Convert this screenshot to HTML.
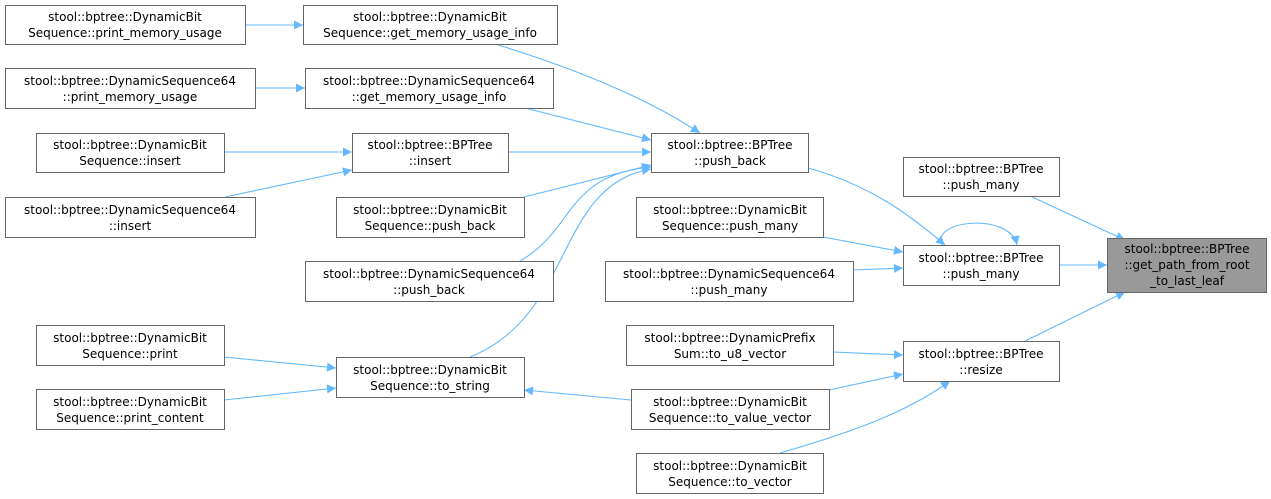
<!DOCTYPE html>
<html><head><meta charset="utf-8"><style>
html,body{margin:0;padding:0;background:#fff;}
svg{display:block;}
text{font-family:"DejaVu Sans","Liberation Sans",sans-serif;font-size:12px;fill:#000;}
.n{fill:#fff;stroke:#666;stroke-width:1;}
.e{fill:none;stroke:#63b8ff;stroke-width:1.1;}
</style></head><body>
<svg width="1271" height="499" viewBox="0 0 1271 499" xmlns="http://www.w3.org/2000/svg">
<defs>
<marker id="a" viewBox="0 0 10 10" refX="10" refY="5" markerWidth="11" markerHeight="9" orient="auto" markerUnits="userSpaceOnUse">
<path d="M0,0 L10,5 L0,10 z" fill="#63b8ff"/>
</marker>
</defs>
<g class="edges">
<path class="e" d="M245,25 L303,25" marker-end="url(#a)"/>
<path class="e" d="M255,88 L305,88" marker-end="url(#a)"/>
<path class="e" d="M224,152 L352,152" marker-end="url(#a)"/>
<path class="e" d="M225,197 L352,170" marker-end="url(#a)"/>
<path class="e" d="M495,44 C580,70 650,100 700,133" marker-end="url(#a)"/>
<path class="e" d="M525,108 L651,140" marker-end="url(#a)"/>
<path class="e" d="M508,152 L651,152" marker-end="url(#a)"/>
<path class="e" d="M524,197 L651,165" marker-end="url(#a)"/>
<path class="e" d="M520,261 C575,230 565,175 651,167" marker-end="url(#a)"/>
<path class="e" d="M470,357 C575,315 555,185 651,169" marker-end="url(#a)"/>
<path class="e" d="M224,357 L336,368" marker-end="url(#a)"/>
<path class="e" d="M224,400 L336,388" marker-end="url(#a)"/>
<path class="e" d="M631,400 L524,390" marker-end="url(#a)"/>
<path class="e" d="M808,168 C870,185 910,215 945,245" marker-end="url(#a)"/>
<path class="e" d="M823,237 L903,252" marker-end="url(#a)"/>
<path class="e" d="M853,270 L903,268" marker-end="url(#a)"/>
<path class="e" d="M942,245 C930,220 1010,212 1017,245" marker-end="url(#a)"/>
<path class="e" d="M833,352 L903,355" marker-end="url(#a)"/>
<path class="e" d="M829,390 L903,374" marker-end="url(#a)"/>
<path class="e" d="M780,453 C860,430 910,410 950,381" marker-end="url(#a)"/>
<path class="e" d="M1030,196 L1125,240" marker-end="url(#a)"/>
<path class="e" d="M1058,265 L1107,265" marker-end="url(#a)"/>
<path class="e" d="M1025,341 L1125,292" marker-end="url(#a)"/>
</g>
<g class="nodes">
<rect class="n" x="5.5" y="5.5" width="240" height="39"/>
<text x="125" y="21" text-anchor="middle">stool::bptree::DynamicBit</text>
<text x="125" y="37" text-anchor="middle">Sequence::print_memory_usage</text>

<rect class="n" x="5.5" y="68.5" width="250" height="40"/>
<text x="130" y="85" text-anchor="middle">stool::bptree::DynamicSequence64</text>
<text x="130" y="101" text-anchor="middle">::print_memory_usage</text>

<rect class="n" x="36.5" y="133.5" width="188" height="39"/>
<text x="130" y="149" text-anchor="middle">stool::bptree::DynamicBit</text>
<text x="130" y="165" text-anchor="middle">Sequence::insert</text>

<rect class="n" x="5.5" y="197.5" width="250" height="40"/>
<text x="130" y="214" text-anchor="middle">stool::bptree::DynamicSequence64</text>
<text x="130" y="230" text-anchor="middle">::insert</text>

<rect class="n" x="36.5" y="325.5" width="188" height="40"/>
<text x="130" y="342" text-anchor="middle">stool::bptree::DynamicBit</text>
<text x="130" y="358" text-anchor="middle">Sequence::print</text>

<rect class="n" x="36.5" y="389.5" width="188" height="40"/>
<text x="130" y="406" text-anchor="middle">stool::bptree::DynamicBit</text>
<text x="130" y="422" text-anchor="middle">Sequence::print_content</text>

<rect class="n" x="303.5" y="5.5" width="254" height="39"/>
<text x="430" y="21" text-anchor="middle">stool::bptree::DynamicBit</text>
<text x="430" y="37" text-anchor="middle">Sequence::get_memory_usage_info</text>

<rect class="n" x="305.5" y="68.5" width="248" height="40"/>
<text x="429" y="85" text-anchor="middle">stool::bptree::DynamicSequence64</text>
<text x="429" y="101" text-anchor="middle">::get_memory_usage_info</text>

<rect class="n" x="352.5" y="133.5" width="156" height="39"/>
<text x="430" y="149" text-anchor="middle">stool::bptree::BPTree</text>
<text x="430" y="165" text-anchor="middle">::insert</text>

<rect class="n" x="336.5" y="197.5" width="188" height="40"/>
<text x="430" y="214" text-anchor="middle">stool::bptree::DynamicBit</text>
<text x="430" y="230" text-anchor="middle">Sequence::push_back</text>

<rect class="n" x="305.5" y="261.5" width="248" height="40"/>
<text x="429" y="278" text-anchor="middle">stool::bptree::DynamicSequence64</text>
<text x="429" y="294" text-anchor="middle">::push_back</text>

<rect class="n" x="336.5" y="357.5" width="188" height="40"/>
<text x="430" y="374" text-anchor="middle">stool::bptree::DynamicBit</text>
<text x="430" y="390" text-anchor="middle">Sequence::to_string</text>

<rect class="n" x="651.5" y="133.5" width="157" height="39"/>
<text x="730" y="149" text-anchor="middle">stool::bptree::BPTree</text>
<text x="730" y="165" text-anchor="middle">::push_back</text>

<rect class="n" x="636.5" y="197.5" width="187" height="40"/>
<text x="730" y="214" text-anchor="middle">stool::bptree::DynamicBit</text>
<text x="730" y="230" text-anchor="middle">Sequence::push_many</text>

<rect class="n" x="605.5" y="261.5" width="248" height="40"/>
<text x="729" y="278" text-anchor="middle">stool::bptree::DynamicSequence64</text>
<text x="729" y="294" text-anchor="middle">::push_many</text>

<rect class="n" x="626.5" y="325.5" width="207" height="40"/>
<text x="730" y="342" text-anchor="middle">stool::bptree::DynamicPrefix</text>
<text x="730" y="358" text-anchor="middle">Sum::to_u8_vector</text>

<rect class="n" x="631.5" y="389.5" width="198" height="40"/>
<text x="730" y="406" text-anchor="middle">stool::bptree::DynamicBit</text>
<text x="730" y="422" text-anchor="middle">Sequence::to_value_vector</text>

<rect class="n" x="636.5" y="453.5" width="187" height="40"/>
<text x="730" y="470" text-anchor="middle">stool::bptree::DynamicBit</text>
<text x="730" y="486" text-anchor="middle">Sequence::to_vector</text>

<rect class="n" x="903.5" y="157.5" width="156" height="39"/>
<text x="981" y="173" text-anchor="middle">stool::bptree::BPTree</text>
<text x="981" y="189" text-anchor="middle">::push_many</text>

<rect class="n" x="903.5" y="245.5" width="156" height="40"/>
<text x="981" y="262" text-anchor="middle">stool::bptree::BPTree</text>
<text x="981" y="278" text-anchor="middle">::push_many</text>

<rect class="n" x="903.5" y="341.5" width="156" height="40"/>
<text x="981" y="358" text-anchor="middle">stool::bptree::BPTree</text>
<text x="981" y="374" text-anchor="middle">::resize</text>

<rect x="1107.5" y="238.5" width="159" height="54" fill="#999" stroke="#666"/>
<text x="1187" y="253" text-anchor="middle">stool::bptree::BPTree</text>
<text x="1187" y="269" text-anchor="middle">::get_path_from_root</text>
<text x="1187" y="285" text-anchor="middle">_to_last_leaf</text>
</g>
</svg>
</body></html>
